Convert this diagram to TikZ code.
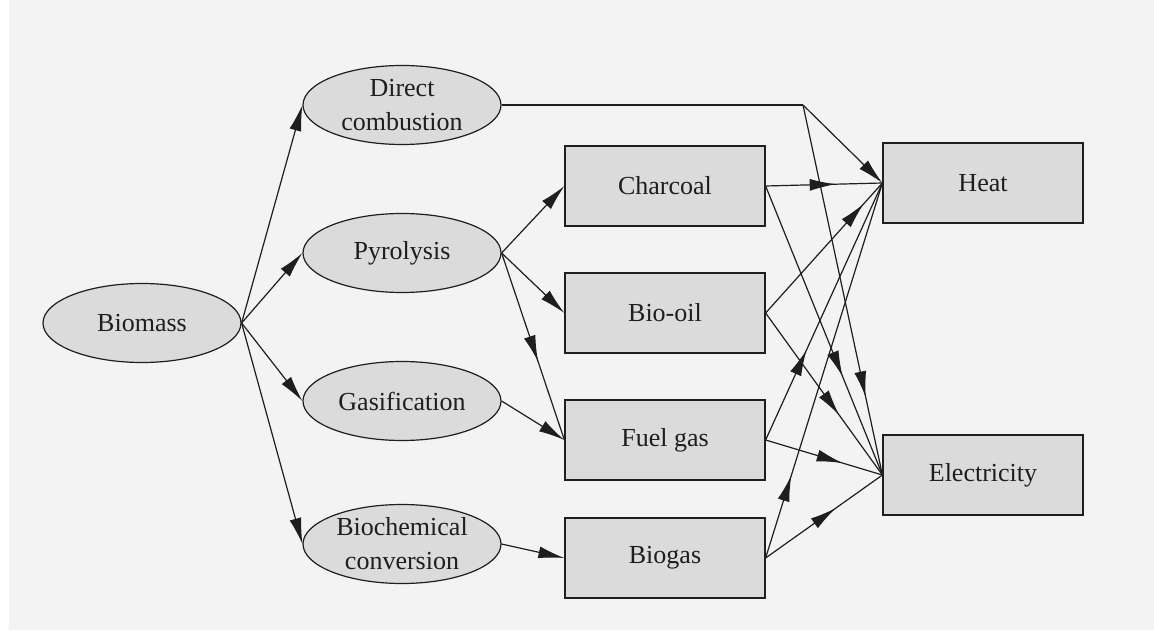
\documentclass[tikz,border=0pt]{standalone}
\usepackage{fontspec}
\setmainfont{Liberation Serif}
\usepackage{xcolor}
\usepackage{tikz}
\usetikzlibrary{shapes.geometric, arrows.meta, positioning, decorations.markings}

\definecolor{paper}{RGB}{243,243,243}
\definecolor{boxgray}{RGB}{219,219,219}
\definecolor{ink}{RGB}{30,30,30}

\begin{document}
\begin{tikzpicture}[x=0.5pt, y=-0.5pt, semithick, color=ink,
    >={Latex[length=13pt, width=6pt]},
    font=\fontsize{13}{17}\selectfont,
    route/.style={ellipse, draw, fill=boxgray, minimum width=99pt, minimum height=39.5pt, inner sep=0pt, align=center},
    carrier/.style={rectangle, draw, fill=boxgray, minimum width=100pt, minimum height=40pt, inner sep=0pt, align=center},
    midarrow/.style={postaction={decorate}, decoration={markings, mark=at position #1 with {\arrow{>}}}}]
    \useasboundingbox (0,0) rectangle (1154,635);
    \fill[white] (0,0) rectangle (1154,635);
    \fill[paper] (9,0) rectangle (1154,630);

    % Nodes
    \node (Biomass) [route] at (142,323) {Biomass};
    \node (Direct) [route] at (402,105) {Direct\\combustion};
    \node (Pyrolysis) [route, below of=Direct, node distance=74pt] {Pyrolysis};
    \node (Gasification) [route, below of=Pyrolysis, node distance=74pt] {Gasification};
    \node (Biochemical) [route, below of=Gasification, node distance=71.5pt] {Biochemical\\conversion};

    \node (Charcoal) [carrier] at (665,186) {Charcoal};
    \node (Biooil) [carrier, below of=Charcoal, node distance=63.5pt] {Bio-oil};
    \node (Fuelgas) [carrier, below of=Biooil, node distance=63.5pt] {Fuel gas};
    \node (Biogas) [carrier, below of=Fuelgas, node distance=59pt] {Biogas};

    \node (Heat) [carrier] at (983,183) {Heat};
    \node (Electricity) [carrier, below of=Heat, node distance=146pt] {Electricity};

    \coordinate (Split) at (803,105);

    % Edges
    \foreach \n in {Direct, Pyrolysis, Gasification, Biochemical}
        \draw[->] (Biomass.east) -- (\n.west);
    \draw[->] (Pyrolysis.east) -- (Charcoal.west);
    \draw[->] (Pyrolysis.east) -- (Biooil.west);
    \draw[midarrow=0.58] (Pyrolysis.east) -- (Fuelgas.west);
    \draw[->] (Gasification.east) -- (Fuelgas.west);
    \draw[->] (Biochemical.east) -- (Biogas.west);

    \draw (Direct.east) -- (Split);
    \draw[->] (Split) -- (Heat.west);
    \draw[midarrow=0.79] (Split) -- (Electricity.west);
    \draw[midarrow=0.6] (Charcoal.east) -- (Heat.west);
    \draw[midarrow=0.66] (Charcoal.east) -- (Electricity.west);
    \draw[midarrow=0.84] (Biooil.east) -- (Heat.west);
    \draw[midarrow=0.63] (Biooil.east) -- (Electricity.west);
    \draw[midarrow=0.35] (Fuelgas.east) -- (Heat.west);
    \draw[midarrow=0.66] (Fuelgas.east) -- (Electricity.west);
    \draw[midarrow=0.22] (Biogas.east) -- (Heat.west);
    \draw[midarrow=0.6] (Biogas.east) -- (Electricity.west);
\end{tikzpicture}
\end{document}
